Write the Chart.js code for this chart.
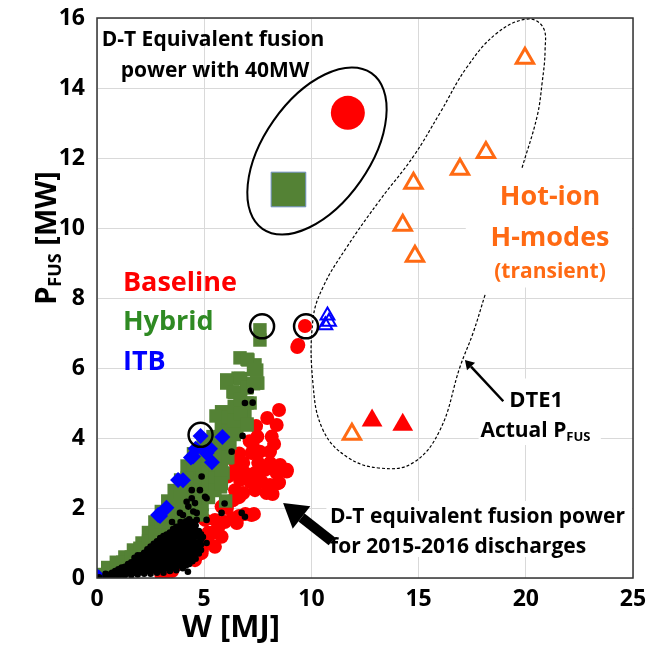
<!DOCTYPE html>
<html>
<head>
<meta charset="utf-8">
<script src="https://cdn.jsdelivr.net/npm/chart.js@4.4.1/dist/chart.umd.min.js"></script>
<style>
  html, body { margin: 0; padding: 0; background: #fff; }
  canvas { display: block; }
</style>
</head>
<body>
<canvas id="chart" width="649" height="655"></canvas>
<script>
// tick labels
const xTicks = [0, 5, 10, 15, 20, 25];
const yTicks = [0, 2, 4, 6, 8, 10, 12, 14, 16];

// 2015-2016 discharges, D-T equivalent fusion power (W [MJ], P [MW])
const baseline = [
  [9.7, 7.2], [9.39, 6.66], [9.34, 6.6],
  [8.49, 4.8], [8.38, 4.37], [7.94, 4.57], [7.42, 4.34], [8.15, 4.04], [7.48, 4.04],
  [7.26, 3.83], [8.26, 3.83], [8.07, 3.61], [7.6, 3.61], [7.21, 3.57], [6.82, 3.29],
  [7.52, 3.29], [8.07, 3.29], [8.54, 3.23], [8.85, 3.04], [8.38, 3.0], [7.84, 3.09],
  [7.37, 3.0], [6.9, 3.0], [6.52, 3.09], [6.67, 2.8], [7.14, 2.75], [7.68, 2.75],
  [8.07, 2.66], [8.46, 2.71], [7.37, 2.51], [7.91, 2.43], [6.82, 2.43], [6.44, 2.51],
  [8.19, 2.4], [8.86, 3.09], [8.49, 2.73], [6.72, 3.31], [6.63, 2.31], [6.34, 2.23],
  [6.06, 2.0], [6.92, 1.83], [7.32, 1.83], [6.63, 1.77], [6.34, 1.71], [5.96, 1.6],
  [5.66, 1.46], [5.38, 1.29], [5.18, 1.06], [4.9, 0.83], [4.6, 0.66], [4.2, 0.51],
  [3.63, 0.34], [3.3, 0.3], [5.04, 1.66], [5.5, 1.66], [5.18, 1.29], [5.5, 0.89],
  [4.88, 0.71], [4.57, 0.51], [3.17, 0.14], [5.81, 2.04], [7.12, 3.91], [6.63, 3.56],
  [6.44, 3.31], [7.21, 1.8], [6.35, 2.23], [6.52, 1.57], [5.81, 1.18], [3.0, 0.1],
  [3.5, 0.2], [1.8, 0.62], [6.1, 2.9], [6.3, 3.0]
];
const hybrid = [
  [7.6, 7.09], [7.6, 6.8], [6.67, 6.29], [7.04, 6.23], [7.37, 6.09], [7.45, 5.94],
  [6.05, 5.66], [6.58, 5.71], [7.45, 5.57], [6.98, 5.43], [6.34, 5.32], [6.67, 5.09],
  [7.14, 5.0], [6.44, 4.8], [5.81, 4.75], [6.9, 4.66], [6.2, 4.51], [6.98, 4.37],
  [5.88, 4.23], [6.52, 4.18], [5.41, 4.04], [6.2, 3.86], [5.74, 3.66], [5.27, 3.51],
  [6.05, 3.43], [5.58, 3.23], [5.04, 3.09], [5.88, 3.0], [5.35, 2.8], [4.8, 2.75],
  [5.74, 2.61], [5.18, 2.47], [4.65, 2.43], [7.31, 6.06], [7.5, 5.57], [6.05, 5.57],
  [5.55, 4.63], [6.72, 4.63], [5.76, 2.61], [6.0, 2.2],
  [0.2, 0.1], [0.6, 0.15], [0.6, 0.05], [1.0, 0.3], [1.0, 0.1], [1.4, 0.45], [1.4, 0.25],
  [1.8, 0.6], [1.8, 0.4], [2.2, 0.8], [2.2, 0.6], [2.5, 0.95], [2.6, 0.7], [2.9, 1.15],
  [2.9, 0.9], [3.2, 1.45], [3.2, 1.15], [3.5, 1.7], [3.5, 1.4], [3.7, 1.95], [3.8, 1.6],
  [4.0, 2.3], [4.0, 2.0], [4.0, 1.75], [4.3, 2.7], [4.3, 2.4], [4.3, 2.1], [4.3, 1.85],
  [4.6, 3.1], [4.6, 2.8], [4.6, 2.5], [4.6, 2.2], [4.6, 1.9], [4.9, 3.45], [4.9, 3.1],
  [4.9, 2.4], [4.9, 2.1], [4.9, 1.8], [5.2, 3.8], [5.2, 3.4], [5.2, 3.0],
  [5.2, 2.7], [5.2, 2.3], [5.5, 4.0], [5.5, 3.6], [5.5, 3.2], [5.5, 2.85], [5.5, 2.5],
  [5.8, 4.3], [5.8, 3.9], [5.8, 3.5], [5.8, 3.1], [5.8, 2.7], [6.1, 4.6], [6.1, 4.2],
  [6.1, 3.8], [6.1, 3.45], [6.4, 5.3], [6.4, 4.9], [6.4, 4.5], [6.4, 4.1], [6.7, 5.7],
  [6.7, 5.1], [6.7, 4.7], [7.0, 6.25], [7.0, 5.45], [7.0, 5.0], [7.0, 4.4], [7.3, 5.95],
  [7.3, 5.55],
  [0.5, 0.3], [0.9, 0.45], [1.3, 0.6], [1.7, 0.8], [2.1, 1.0], [2.4, 1.3], [2.7, 1.6],
  [3.0, 1.9], [3.3, 2.2], [3.6, 2.5], [3.9, 2.8], [4.2, 3.2], [4.5, 3.55], [4.95, 3.8],
  [2.0, 0.85], [2.4, 1.05], [2.7, 1.3], [3.0, 1.6], [3.3, 1.85], [3.6, 2.15], [3.9, 2.45],
  [4.2, 2.85], [4.5, 3.25], [1.2, 0.45], [1.6, 0.6]
];
const itb = [
  [4.83, 4.06], [5.85, 4.03], [5.27, 3.69], [4.6, 3.69], [4.38, 3.44], [5.36, 3.31],
  [5.11, 3.57], [4.48, 3.47], [4.01, 2.79], [3.78, 2.8], [3.24, 2.01], [2.94, 1.77],
  [2.85, 1.8], [0.0, 0.05], [0.1, 0.0]
];
const discharges = [
  [0.1, 0.02], [0.4, 0.05], [0.4, 0.12], [0.7, 0.05], [0.7, 0.15],
  [1.0, 0.05], [1.0, 0.15], [1.0, 0.25], [1.3, 0.08], [1.3, 0.2], [1.3, 0.32],
  [1.6, 0.08], [1.6, 0.2], [1.6, 0.35], [1.6, 0.45],
  [1.9, 0.1], [1.9, 0.25], [1.9, 0.4], [1.9, 0.55], [1.9, 0.65],
  [2.2, 0.12], [2.2, 0.27], [2.2, 0.42], [2.2, 0.58], [2.2, 0.72],
  [2.5, 0.12], [2.5, 0.28], [2.5, 0.44], [2.5, 0.6], [2.5, 0.76], [2.5, 0.9],
  [2.8, 0.15], [2.8, 0.3], [2.8, 0.46], [2.8, 0.62], [2.8, 0.78], [2.8, 0.94], [2.8, 1.05],
  [3.1, 0.15], [3.1, 0.32], [3.1, 0.48], [3.1, 0.64], [3.1, 0.8], [3.1, 0.96], [3.1, 1.12], [3.1, 1.2],
  [3.4, 0.2], [3.4, 0.36], [3.4, 0.52], [3.4, 0.68], [3.4, 0.84], [3.4, 1.0], [3.4, 1.16], [3.4, 1.3],
  [3.7, 0.22], [3.7, 0.38], [3.7, 0.54], [3.7, 0.7], [3.7, 0.86], [3.7, 1.02], [3.7, 1.18], [3.7, 1.34], [3.7, 1.46],
  [4.0, 0.28], [4.0, 0.44], [4.0, 0.6], [4.0, 0.76], [4.0, 0.92], [4.0, 1.08], [4.0, 1.24], [4.0, 1.4], [4.0, 1.56],
  [4.3, 0.4], [4.3, 0.56], [4.3, 0.72], [4.3, 0.88], [4.3, 1.04], [4.3, 1.2], [4.3, 1.36], [4.3, 1.52], [4.3, 1.68],
  [4.6, 0.55], [4.6, 0.7], [4.6, 0.86], [4.6, 1.02], [4.6, 1.18], [4.6, 1.34], [4.6, 1.5],
  [4.85, 0.8], [4.85, 0.95], [4.85, 1.1], [4.85, 1.25],
  [0.55, 0.09], [0.85, 0.1], [0.85, 0.2], [1.15, 0.1], [1.15, 0.2], [1.15, 0.3],
  [1.45, 0.14], [1.45, 0.27], [1.45, 0.4], [1.75, 0.15], [1.75, 0.3], [1.75, 0.45], [1.75, 0.58],
  [2.05, 0.18], [2.05, 0.34], [2.05, 0.5], [2.05, 0.65],
  [2.35, 0.2], [2.35, 0.36], [2.35, 0.52], [2.35, 0.68], [2.35, 0.82],
  [2.65, 0.22], [2.65, 0.38], [2.65, 0.54], [2.65, 0.7], [2.65, 0.86], [2.65, 0.98],
  [2.95, 0.24], [2.95, 0.4], [2.95, 0.56], [2.95, 0.72], [2.95, 0.88], [2.95, 1.04], [2.95, 1.14],
  [3.25, 0.28], [3.25, 0.44], [3.25, 0.6], [3.25, 0.76], [3.25, 0.92], [3.25, 1.08], [3.25, 1.24],
  [3.55, 0.3], [3.55, 0.46], [3.55, 0.62], [3.55, 0.78], [3.55, 0.94], [3.55, 1.1], [3.55, 1.26], [3.55, 1.4],
  [3.85, 0.36], [3.85, 0.52], [3.85, 0.68], [3.85, 0.84], [3.85, 1.0], [3.85, 1.16], [3.85, 1.32], [3.85, 1.48],
  [4.15, 0.36], [4.15, 0.52], [4.15, 0.68], [4.15, 0.84], [4.15, 1.0], [4.15, 1.16], [4.15, 1.32], [4.15, 1.48], [4.15, 1.62],
  [4.45, 0.48], [4.45, 0.64], [4.45, 0.8], [4.45, 0.96], [4.45, 1.12], [4.45, 1.28], [4.45, 1.44], [4.45, 1.6],
  [4.75, 0.7], [4.75, 0.86], [4.75, 1.02], [4.75, 1.18], [4.75, 1.34],
  [4.88, 2.9], [4.42, 2.51], [4.18, 2.18], [4.57, 2.14], [4.49, 1.9], [4.01, 1.8], [4.65, 1.66],
  [5.04, 2.32], [4.24, 1.37], [7.17, 5.35], [6.9, 5.0], [7.26, 5.01], [6.79, 4.06], [6.28, 3.61],
  [4.8, 2.51], [4.42, 2.28], [5.11, 2.28], [4.26, 2.04], [4.65, 1.86], [5.81, 1.86], [6.75, 1.86],
  [6.9, 1.75], [5.11, 1.66], [3.87, 1.86], [4.94, 1.17], [5.11, 1.0], [4.8, 0.8], [5.95, 2.13],
  [4.24, 0.18], [3.5, 1.6], [3.9, 1.6]
];
// highlighted discharges (black rings)
const highlighted = [[4.83, 4.09], [7.7, 7.19], [9.75, 7.19]];
// D-T equivalent fusion power with 40 MW
const baselineDT40 = [[11.7, 13.29]];
const hybridDT40 = [[8.93, 11.1]];
// DTE1 actual fusion power
const hotIonOpen = [[19.96, 14.85], [18.14, 12.16], [16.93, 11.68], [14.76, 11.28], [14.26, 10.08], [14.83, 9.19], [11.89, 4.11]];
const hotIonFilled = [[12.83, 4.5], [14.26, 4.38]];
const itbDTE1 = [[10.75, 7.5], [10.65, 7.22], [10.82, 7.32]];
// outline round the DTE1 points (dashed)
const dte1Outline = [
  [18.1, 8.09], [17.54, 7.0], [16.93, 6.03], [16.0, 4.23], [14.74, 3.29], [13.2, 3.14],
  [11.66, 3.46], [10.54, 4.23], [10.07, 5.57], [10.07, 7.37], [10.54, 8.31], [11.66, 9.46],
  [13.2, 10.8], [14.74, 12.03], [16.0, 13.29], [17.26, 14.6], [18.66, 15.57], [20.06, 15.97],
  [20.8, 15.74], [20.9, 15.09], [20.76, 14.14], [20.52, 13.17], [19.82, 11.71]
];

const pts = a => a.map(([x, y]) => ({x, y}));
const FONT = '"Open Sans", sans-serif';

// white boxes behind annotation text: [x0, y0, x1, y1] in data units
const textBoxes = [[17.2, 8.3, 25, 11.9], [17.8, 3.8, 23.5, 5.7], [10.7, 0.6, 25, 2.2]];

function drawSub(ctx, main, sub, x, y, size, align) {
  ctx.font = 'bold ' + size + 'px ' + FONT;
  const w1 = ctx.measureText(main).width;
  ctx.font = 'bold ' + Math.round(size * 0.62) + 'px ' + FONT;
  const w2 = ctx.measureText(sub).width;
  let x0 = align === 'center' ? x - (w1 + w2) / 2 : x;
  ctx.textAlign = 'left';
  ctx.font = 'bold ' + size + 'px ' + FONT;
  ctx.fillText(main, x0, y);
  ctx.font = 'bold ' + Math.round(size * 0.62) + 'px ' + FONT;
  ctx.fillText(sub, x0 + w1, y + size * 0.28);
}

function arrow(ctx, x1, y1, x2, y2, width, head) {
  const ang = Math.atan2(y2 - y1, x2 - x1);
  const bx = x2 - Math.cos(ang) * head * 0.9, by = y2 - Math.sin(ang) * head * 0.9;
  ctx.lineWidth = width;
  ctx.beginPath();
  ctx.moveTo(x1, y1);
  ctx.lineTo(bx, by);
  ctx.stroke();
  ctx.beginPath();
  ctx.moveTo(x2, y2);
  ctx.lineTo(bx + Math.cos(ang + Math.PI / 2) * head * 0.55, by + Math.sin(ang + Math.PI / 2) * head * 0.55);
  ctx.lineTo(bx - Math.cos(ang + Math.PI / 2) * head * 0.55, by - Math.sin(ang + Math.PI / 2) * head * 0.55);
  ctx.closePath();
  ctx.fill();
}

const textBoxPlugin = {
  id: 'textBoxes',
  beforeDatasetsDraw(chart) {
    const {ctx, scales: {x, y}} = chart;
    ctx.save();
    ctx.fillStyle = '#fff';
    textBoxes.forEach(([a, b, c, d]) => {
      const px0 = x.getPixelForValue(a), px1 = Math.min(x.getPixelForValue(c), chart.chartArea.right - 1);
      const py0 = y.getPixelForValue(d), py1 = y.getPixelForValue(b);
      ctx.fillRect(px0, py0, px1 - px0, py1 - py0);
    });
    ctx.restore();
  }
};

const annotationPlugin = {
  id: 'annotations',
  afterDatasetsDraw(chart) {
    const {ctx, chartArea: area, scales: {x, y}} = chart;
    const X = v => x.getPixelForValue(v), Y = v => y.getPixelForValue(v);
    ctx.save();
    // frame
    ctx.strokeStyle = '#333';
    ctx.lineWidth = 1.5;
    ctx.strokeRect(area.left, area.top, area.right - area.left, area.bottom - area.top);

    // solid ellipse round the 40 MW points
    ctx.strokeStyle = '#000';
    ctx.lineWidth = 2;
    ctx.beginPath();
    ctx.ellipse(X(10.26), Y(12.2), 95, 53, -55 * Math.PI / 180, 0, Math.PI * 2);
    ctx.stroke();

    // arrows
    ctx.fillStyle = '#000';
    ctx.strokeStyle = '#000';
    arrow(ctx, X(10.95), Y(1.05), X(8.68), Y(2.14), 10, 26);
    arrow(ctx, X(18.95), Y(5.05), X(17.16), Y(6.23), 2.5, 10);

    ctx.textBaseline = 'middle';
    ctx.fillStyle = '#000';
    ctx.textAlign = 'center';
    ctx.font = 'bold 21px ' + FONT;
    ctx.fillText('D-T Equivalent fusion', X(5.41), Y(15.37));
    ctx.fillText('power with 40MW', X(5.5), Y(14.49));

    ctx.textAlign = 'left';
    ctx.font = 'bold 27px ' + FONT;
    ctx.fillStyle = '#ff0000';
    ctx.fillText('Baseline', X(1.21), Y(8.43));
    ctx.fillStyle = '#2f8a23';
    ctx.fillText('Hybrid', X(1.21), Y(7.31));
    ctx.fillStyle = '#0000ff';
    ctx.fillText('ITB', X(1.21), Y(6.17));

    ctx.textAlign = 'center';
    ctx.fillStyle = '#ff6a13';
    ctx.font = 'bold 27px ' + FONT;
    ctx.fillText('Hot-ion', X(21.13), Y(10.89));
    ctx.fillText('H-modes', X(21.13), Y(9.71));
    ctx.font = 'bold 21px ' + FONT;
    ctx.fillText('(transient)', X(21.13), Y(8.74));

    ctx.fillStyle = '#000';
    ctx.font = 'bold 22px ' + FONT;
    ctx.fillText('DTE1', X(20.48), Y(5.07));
    drawSub(ctx, 'Actual P', 'FUS', X(20.45), Y(4.2), 21, 'center');

    ctx.textAlign = 'left';
    ctx.font = 'bold 21px ' + FONT;
    ctx.fillText('D-T equivalent fusion power', X(10.87), Y(1.74));
    ctx.fillText('for 2015-2016 discharges', X(10.87), Y(0.89));

    // axis titles
    ctx.font = 'bold 31px ' + FONT;
    ctx.textAlign = 'center';
    ctx.fillText('W [MJ]', 231, 628);

    ctx.translate(48, 238);
    ctx.rotate(-Math.PI / 2);
    ctx.font = 'bold 29px ' + FONT;
    const wP = ctx.measureText('P').width;
    ctx.font = 'bold 18px ' + FONT;
    const wS = ctx.measureText('FUS').width;
    ctx.font = 'bold 29px ' + FONT;
    const wR = ctx.measureText(' [MW]').width;
    let sx = -(wP + wS + wR) / 2;
    ctx.textAlign = 'left';
    ctx.fillText('P', sx, 0);
    ctx.font = 'bold 18px ' + FONT;
    ctx.fillText('FUS', sx + wP, 8);
    ctx.font = 'bold 29px ' + FONT;
    ctx.fillText(' [MW]', sx + wP + wS, 0);
    ctx.restore();
  }
};

const tickFont = {family: FONT, size: 23, weight: 'bold'};

new Chart(document.getElementById('chart'), {
  type: 'scatter',
  data: {
    datasets: [
      {data: pts(highlighted), pointStyle: 'circle', pointRadius: 12, backgroundColor: 'rgba(0,0,0,0)', borderColor: '#000', borderWidth: 2.5},
      {data: pts(discharges), pointRadius: 3.3, backgroundColor: '#000', borderWidth: 0},
      {data: pts(itb), pointStyle: 'rectRot', pointRadius: 8, backgroundColor: '#0000ff', borderWidth: 0},
      {data: pts(hybrid), pointStyle: 'rect', pointRadius: 9.5, backgroundColor: '#548235', borderWidth: 0},
      {data: pts(baseline), pointRadius: 7, backgroundColor: '#ff0000', borderWidth: 0},
      {data: pts(itbDTE1), pointStyle: 'triangle', pointRadius: 8, backgroundColor: 'rgba(0,0,0,0)', borderColor: '#0000ff', borderWidth: 2},
      {data: pts(hotIonFilled), pointStyle: 'triangle', pointRadius: 12, backgroundColor: '#ff0000', borderWidth: 0},
      {data: pts(hotIonOpen), pointStyle: 'triangle', pointRadius: 10, backgroundColor: '#fff', borderColor: '#ff6a13', borderWidth: 3},
      {data: pts(baselineDT40), pointRadius: 17, backgroundColor: '#ff0000', borderWidth: 0},
      {data: pts(hybridDT40), pointStyle: 'rect', pointRadius: 24.5, backgroundColor: '#548235', borderColor: '#6f8fc0', borderWidth: 1},
      {data: pts(dte1Outline), showLine: true, tension: 0.4, pointRadius: 0, borderColor: '#000', borderWidth: 1.2, borderDash: [3, 2], fill: false}
    ]
  },
  options: {
    responsive: false,
    animation: false,
    events: [],
    layout: {autoPadding: false, padding: {top: 18, right: 16, left: 0, bottom: 0}},
    plugins: {legend: {display: false}, tooltip: {enabled: false}},
    scales: {
      x: {
        type: 'linear', min: 0, max: 25,
        afterBuildTicks: s => { s.ticks = xTicks.map(v => ({value: v})); },
        ticks: {font: tickFont, color: '#000', padding: 8, maxRotation: 0},
        grid: {color: '#d9d9d9', lineWidth: 1, drawTicks: false},
        border: {display: false},
        afterFit: s => { s.height = 77; s.paddingLeft = 0; s.paddingRight = 0; }
      },
      y: {
        type: 'linear', min: 0, max: 16,
        afterBuildTicks: s => { s.ticks = yTicks.map(v => ({value: v})); },
        ticks: {font: tickFont, color: '#000', padding: 12},
        grid: {color: '#d9d9d9', lineWidth: 1, drawTicks: false},
        border: {display: false},
        afterFit: s => { s.width = 97; s.paddingTop = 0; s.paddingBottom = 0; }
      }
    }
  },
  plugins: [textBoxPlugin, annotationPlugin]
});
</script>
</body>
</html>
